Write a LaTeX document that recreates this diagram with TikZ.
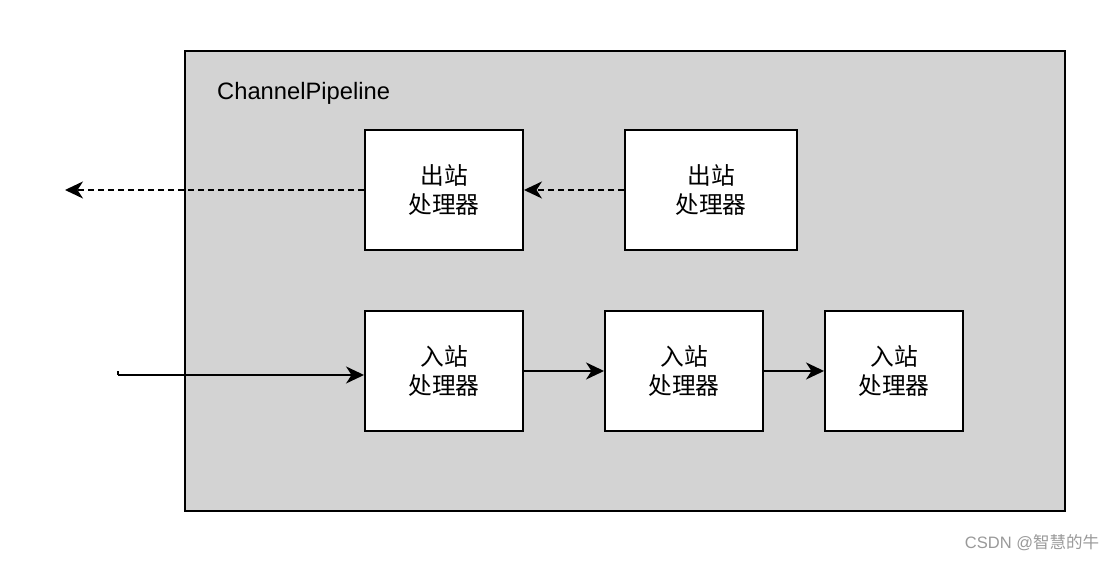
\documentclass[tikz,border=0pt]{standalone}
\usepackage{fontspec}
\setmainfont{Liberation Sans}
\newfontfamily\cjk{Noto Sans CJK SC}
\usetikzlibrary{arrows.meta}

\definecolor{pipegray}{HTML}{D3D3D3}

\tikzset{
    handler/.style={draw, line width=1.1pt, fill=white, minimum height=2.4cm,
        align=center, font=\cjk\fontsize{13.5}{16}\selectfont},
    flow/.style={line width=1.1pt, -{Stealth[length=0.36cm,width=0.34cm,inset=0.11cm]}},
    backflow/.style={flow, dash pattern=on 3.4pt off 2.3pt}
}

\begin{document}
\begin{tikzpicture}
            \useasboundingbox (0,0) rectangle (22.32,11.24);

            % Pipeline frame
            \draw[line width=1.1pt, fill=pipegray] (3.7,1.02) rectangle (21.3,10.22);
            \node (title) at (4.22,9.38) [anchor=west, font=\fontsize{13.5}{16}\selectfont] {ChannelPipeline};

            % Outbound handlers
            \node (out1) at (8.88,7.44) [handler, minimum width=3.16cm] {出站\\处理器};
            \node (out2) at (14.22,7.44) [handler, minimum width=3.44cm] {出站\\处理器};

            % Inbound handlers
            \node (in1) at (8.88,3.82) [handler, minimum width=3.16cm] {入站\\处理器};
            \node (in2) at (13.68,3.82) [handler, minimum width=3.16cm] {入站\\处理器};
            \node (in3) at (17.88,3.82) [handler, minimum width=2.76cm] {入站\\处理器};

            % Arrows
            \coordinate (outend) at (1.3,7.44);
            \coordinate (instart) at (2.36,3.74);
            \draw[backflow] (out2) -- (out1);
            \draw[backflow] (out1) -- (outend);
            \draw[line width=1.1pt] (instart) -- ++(0,0.08);
            \draw[flow] (instart) -- (instart -| in1.west);
            \draw[flow] (in1) -- (in2);
            \draw[flow] (in2) -- (in3);

            % Watermark
            \node (mark) at (20.64,0.38) [text=gray!80, font=\fontsize{9.4}{11}\selectfont] {CSDN @{\cjk 智慧的牛}};
        \end{tikzpicture}
\end{document}
